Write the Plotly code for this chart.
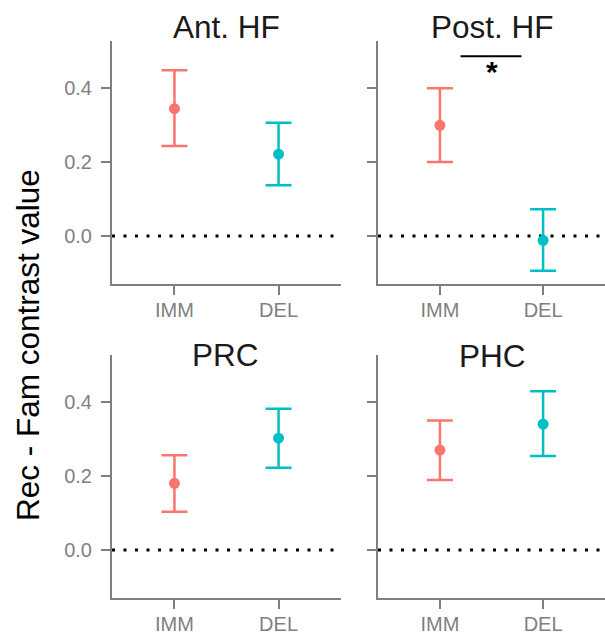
import plotly.graph_objects as go

# ---- data ----
regions = ["Ant. HF", "Post. HF", "PRC", "PHC"]
groups = ["IMM", "DEL"]
imm_mean = [0.344, 0.299, 0.180, 0.270]
imm_upper = [0.448, 0.399, 0.256, 0.350]
imm_lower = [0.243, 0.200, 0.103, 0.189]
del_mean = [0.221, -0.012, 0.302, 0.340]
del_upper = [0.306, 0.072, 0.382, 0.429]
del_lower = [0.137, -0.094, 0.222, 0.254]
y_ticks = [0.0, 0.2, 0.4]
y_tick_labels = ["0.0", "0.2", "0.4"]
group_colors = ["#F8766D", "#00BFC4"]

W, H = 605, 643
FONT = "Liberation Sans, Arial, sans-serif"
GREY = "#7f7f7f"

# panel pixel boxes (left, right, top, bottom)
panels = [
    (112, 341, 41, 284),
    (378, 605, 41, 284),
    (112, 341, 355, 598),
    (378, 605, 355, 598),
]
title_pos = [(226, 27), (492, 27), (225, 355), (492, 356)]

fig = go.Figure()
layout = {}
shapes = []
annotations = []

for i, region in enumerate(regions):
    sfx = "" if i == 0 else str(i + 1)
    xa, ya = "x" + sfx, "y" + sfx
    means = [imm_mean[i], del_mean[i]]
    ups = [imm_upper[i], del_upper[i]]
    lows = [imm_lower[i], del_lower[i]]
    for g in range(2):
        fig.add_trace(go.Scatter(
            x=[g + 1], y=[means[g]], xaxis=xa, yaxis=ya, mode="markers",
            marker=dict(color=group_colors[g], size=11),
            error_y=dict(type="data", symmetric=False,
                         array=[ups[g] - means[g]], arrayminus=[means[g] - lows[g]],
                         color=group_colors[g], thickness=2.5, width=13),
            showlegend=False, hoverinfo="skip"))
    l, r, t, b = panels[i]
    layout["xaxis" + sfx] = dict(
        domain=[l / W, r / W], anchor=ya, range=[0.4, 2.6],
        tickmode="array", tickvals=[1, 2], ticktext=groups,
        showline=True, linecolor=GREY, linewidth=2,
        ticks="outside", ticklen=9, tickwidth=2, tickcolor=GREY,
        ticklabelstandoff=-2,
        tickfont=dict(family=FONT, size=20, color=GREY),
        showgrid=False, zeroline=False, fixedrange=True)
    layout["yaxis" + sfx] = dict(
        domain=[(H - b) / H, (H - t) / H], anchor=xa, range=[-0.13, 0.527],
        tickmode="array", tickvals=y_ticks, ticktext=y_tick_labels,
        showticklabels=(i % 2 == 0),
        showline=True, linecolor=GREY, linewidth=2,
        ticks="outside", ticklen=9, tickwidth=2, tickcolor=GREY,
        ticklabelstandoff=5,
        tickfont=dict(family=FONT, size=20, color=GREY),
        showgrid=False, zeroline=False, fixedrange=True)
    shapes.append(dict(type="line", xref=xa, yref=ya, x0=0.4, x1=2.6, y0=0, y1=0,
                       line=dict(color="black", width=3, dash="3px,8.5px"), layer="below"))
    tx, ty = title_pos[i]
    annotations.append(dict(text=region, xref="paper", yref="paper",
                            x=tx / W, y=1 - ty / H, xanchor="center", yanchor="middle",
                            showarrow=False, font=dict(family=FONT, size=31.5, color="#1a1a1a")))

# significance bracket for Post. HF
shapes.append(dict(type="line", xref="x2", yref="y2", x0=1.2, x1=1.79, y0=0.486, y1=0.486,
                   line=dict(color="black", width=2)))
annotations.append(dict(text="<b>*</b>", xref="x2", yref="y2", x=1.5, y=0.445,
                        xanchor="center", yanchor="middle", showarrow=False,
                        font=dict(family=FONT, size=30, color="black")))

# y-axis title
annotations.append(dict(text="Rec - Fam contrast value", xref="paper", yref="paper",
                        x=28 / W, y=1 - 345 / H, xanchor="center", yanchor="middle",
                        textangle=-90, showarrow=False,
                        font=dict(family=FONT, size=31.5, color="black")))

fig.update_layout(
    width=W, height=H, margin=dict(l=0, r=0, t=0, b=0),
    paper_bgcolor="white", plot_bgcolor="white",
    shapes=shapes, annotations=annotations, **layout)

fig.write_html("out.html", config={"displayModeBar": False},
               post_script="document.body.style.margin='0';document.body.style.overflow='hidden';")
